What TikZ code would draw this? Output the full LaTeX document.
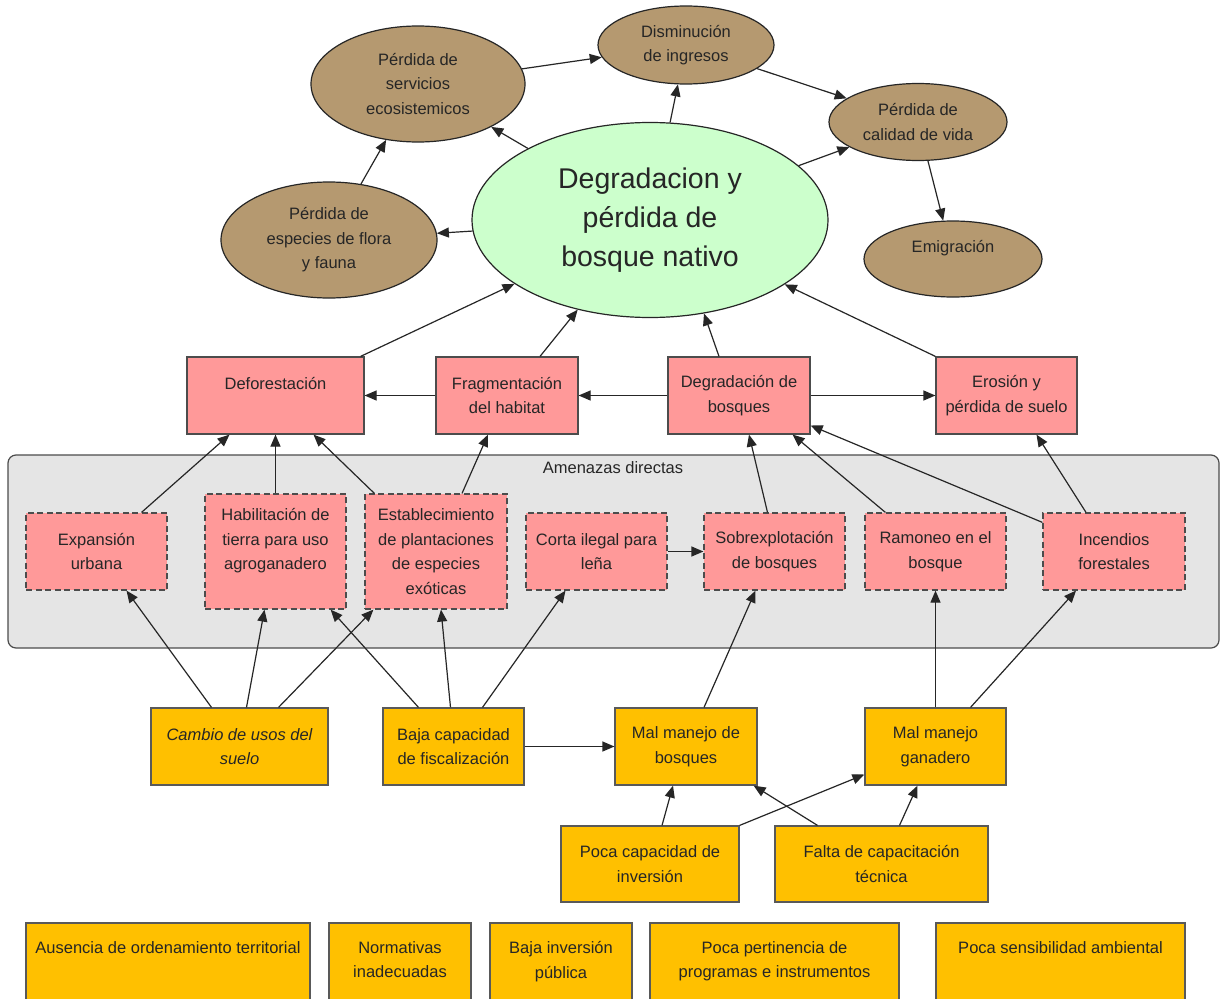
\documentclass[tikz,border=0pt]{standalone}
\usepackage{fontspec}
\setmainfont{Liberation Sans}
\usepackage{xcolor}
\usepackage{tikz}
\usetikzlibrary{shapes.geometric,arrows.meta}

\definecolor{cafe}{RGB}{181,153,112}
\definecolor{verde}{RGB}{204,255,204}
\definecolor{rosa}{RGB}{255,153,153}
\definecolor{amarillo}{RGB}{255,192,0}
\definecolor{gris}{RGB}{229,229,229}
\definecolor{tinta}{RGB}{38,38,38}

\begin{document}
\begin{tikzpicture}[x=1pt,y=-1pt,
  efecto/.style={ellipse,draw=black!85,line width=1.2pt,fill=cafe,inner sep=0pt,align=center,text=tinta,font=\fontsize{16.5}{24.5}\selectfont},
  central/.style={ellipse,draw=black!85,line width=1.2pt,fill=verde,inner sep=0pt,align=center,text=tinta,font=\fontsize{28.5}{39}\selectfont},
  directa/.style={draw=black!70,line width=1.2pt,fill=rosa,inner sep=0pt,align=center,text=tinta,minimum height=77pt,font=\fontsize{16.5}{24.5}\selectfont},
  amenaza/.style={directa,dash pattern=on 6pt off 3.5pt},
  causa/.style={draw=black!65,line width=1.2pt,fill=amarillo,inner sep=0pt,align=center,text=tinta,minimum height=77pt,font=\fontsize{16.5}{24.5}\selectfont},
  flecha/.style={-{Triangle[length=12pt,width=10pt]},line width=1.2pt,draw=black!85}]

\useasboundingbox (0,0) rectangle (1222,998);
\fill[white] (0,0) rectangle (1222,998);
\clip (0,0) rectangle (1222,998);

% panel de amenazas directas
\draw[draw=black!70,line width=1.2pt,fill=gris,rounded corners=8pt] (8,455) rectangle (1219,648);
\node[text=tinta,font=\fontsize{16.5}{24.5}\selectfont] (amenazas) at (613,468) {Amenazas directas};

% efectos
\node[central,minimum width=356pt,minimum height=195pt] (big) at (650,220) {Degradacion y\\pérdida de\\bosque nativo};
\node[efecto,minimum width=214pt,minimum height=116pt] (serv) at (418,84) {Pérdida de\\servicios\\ecosistemicos};
\node[efecto,minimum width=216pt,minimum height=116pt] (flora) at (329,240) {Pérdida de\\especies de flora\\y fauna};
\node[efecto,minimum width=176pt,minimum height=78pt] (dism) at (686,45) {Disminución\\de ingresos};
\node[efecto,minimum width=178pt,minimum height=77pt] (calidad) at (918,122) {Pérdida de\\calidad de vida};
\node[efecto,minimum width=178pt,minimum height=76pt] (emig) at (953,259) {Emigración\\~};

% problemas
\node[directa,minimum width=177pt] (defo) at (275.5,395.5) {Deforestación\\~};
\node[directa,minimum width=142pt] (frag) at (507,395.5) {Fragmentación\\del habitat};
\node[directa,minimum width=142pt] (degr) at (739,395.5) {Degradación de\\bosques};
\node[directa,minimum width=141pt] (ero) at (1006.5,395.5) {Erosión y\\pérdida de suelo};

% amenazas directas
\node[amenaza,minimum width=141pt] (exp) at (96.5,551.5) {Expansión\\urbana};
\node[amenaza,minimum width=141pt,minimum height=115pt] (hab) at (275.5,551.5) {Habilitación de\\tierra para uso\\agroganadero\\~};
\node[amenaza,minimum width=142pt,minimum height=115pt] (est) at (436,551.5) {Establecimiento\\de plantaciones\\de especies\\exóticas};
\node[amenaza,minimum width=141pt] (corta) at (596.5,551.5) {Corta ilegal para\\leña};
\node[amenaza,minimum width=141pt] (sobre) at (774.5,551.5) {Sobrexplotación\\de bosques};
\node[amenaza,minimum width=141pt] (ramoneo) at (935.5,551.5) {Ramoneo en el\\bosque};
\node[amenaza,minimum width=142pt] (incendios) at (1114,551.5) {Incendios\\forestales};

% causas
\node[causa,minimum width=177pt] (cambio) at (239.5,746.5) {\itshape Cambio de usos del\\\itshape suelo};
\node[causa,minimum width=141pt] (baja) at (453.5,746.5) {Baja capacidad\\de fiscalización};
\node[causa,minimum width=142pt] (malb) at (686,746.5) {Mal manejo de\\bosques};
\node[causa,minimum width=141pt] (malg) at (935.5,746.5) {Mal manejo\\ganadero};
\node[causa,minimum width=178pt,minimum height=76pt] (poca) at (650,864) {Poca capacidad de\\inversión};
\node[causa,minimum width=213pt,minimum height=76pt] (falta) at (881.5,864) {Falta de capacitación\\técnica};

% causas de fondo
\node[causa,minimum width=284pt,minimum height=98pt] (ausencia) at (168,972) {Ausencia de ordenamiento territorial\\~\\~};
\node[causa,minimum width=142pt,minimum height=98pt] (normativas) at (400,972) {Normativas\\inadecuadas\\~};
\node[causa,minimum width=142pt,minimum height=98pt] (inversion) at (561,972) {Baja inversión\\pública\\~};
\node[causa,minimum width=249pt,minimum height=98pt] (pertinencia) at (774.5,972) {Poca pertinencia de\\programas e instrumentos\\~};
\node[causa,minimum width=249pt,minimum height=98pt] (sensibilidad) at (1060.5,972) {Poca sensibilidad ambiental\\~\\~};

% flechas entre efectos
\draw[flecha] (big) -- (serv);
\draw[flecha] (flora) -- (serv);
\draw[flecha] (big) -- (flora);
\draw[flecha] (serv) -- (dism);
\draw[flecha] (big) -- (dism);
\draw[flecha] (dism) -- (calidad);
\draw[flecha] (big) -- (calidad);
\draw[flecha] (calidad) -- (emig);

% problemas hacia el centro
\draw[flecha] ([xshift=-4pt]defo.north east) -- (big);
\draw[flecha] ([xshift=33pt]frag.north) -- (big);
\draw[flecha] ([xshift=-20pt]degr.north) -- (big.-60);
\draw[flecha] (ero.north west) -- (big);
\draw[flecha] (frag.west) -- (defo.east);
\draw[flecha] (degr.west) -- (frag.east);
\draw[flecha] (degr.east) -- (ero.west);

% amenazas hacia problemas
\draw[flecha] ([xshift=45pt]exp.north) -- ([xshift=-46pt]defo.south);
\draw[flecha] (hab.north) -- (defo.south);
\draw[flecha] ([xshift=10pt]est.north west) -- ([xshift=38pt]defo.south);
\draw[flecha] ([xshift=26pt]est.north) -- ([xshift=-19pt]frag.south);
\draw[flecha] ([xshift=-7pt]sobre.north) -- ([xshift=10pt]degr.south);
\draw[flecha] ([xshift=21pt]ramoneo.north west) -- ([xshift=-18pt]degr.south east);
\draw[flecha] ([yshift=-10pt]incendios.north west) -- ([yshift=-30pt]degr.east);
\draw[flecha] ([xshift=-28pt]incendios.north) -- ([xshift=30pt]ero.south);
\draw[flecha] (corta.east) -- (sobre.west);

% causas hacia amenazas
\draw[flecha] ([xshift=-28pt]cambio.north) -- ([xshift=30pt]exp.south);
\draw[flecha] ([xshift=7pt]cambio.north) -- ([xshift=-11pt]hab.south);
\draw[flecha] ([xshift=39pt]cambio.north) -- ([xshift=9pt]est.south west);
\draw[flecha] ([xshift=-35pt]baja.north) -- ([xshift=-16pt]hab.south east);
\draw[flecha] ([xshift=-3pt]baja.north) -- ([xshift=5pt]est.south);
\draw[flecha] ([xshift=29pt]baja.north) -- ([xshift=-31pt]corta.south);
\draw[flecha] (baja.east) -- (malb.west);
\draw[flecha] ([xshift=18pt]malb.north) -- ([xshift=-19pt]sobre.south);
\draw[flecha] (malg.north) -- (ramoneo.south);
\draw[flecha] ([xshift=35pt]malg.north) -- ([xshift=-38pt]incendios.south);
\draw[flecha] ([xshift=12pt]poca.north) -- ([xshift=-13pt]malb.south);
\draw[flecha] (poca.north east) -- ([yshift=-28pt]malg.west);
\draw[flecha] ([xshift=-64pt]falta.north) -- ([xshift=-4pt]malb.south east);
\draw[flecha] ([xshift=18pt]falta.north) -- ([xshift=-18pt]malg.south);
\end{tikzpicture}
\end{document}
